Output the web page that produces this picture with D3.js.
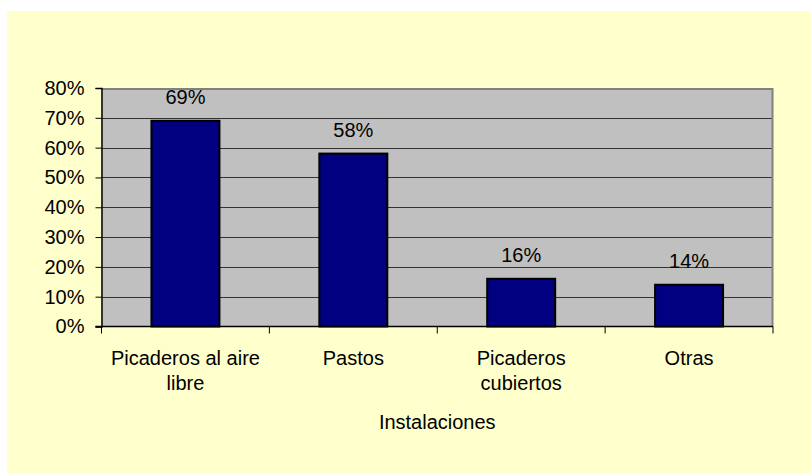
<html>
<head>
<title>Instalaciones</title>
<style>
  body { margin: 0; background: #ffffff; }
  text { font-family: Arial, "Liberation Sans", sans-serif; }
</style>
</head>
<body>
<script src="https://d3js.org/d3.v7.min.js"></script>
<script>
var w = 811;
var h = 473;

// data
var categories = ["Picaderos al aire libre", "Pastos", "Picaderos cubiertos", "Otras"];
var catLines = [["Picaderos al aire", "libre"], ["Pastos"], ["Picaderos", "cubiertos"], ["Otras"]];
var values = [0.69, 0.58, 0.16, 0.14];
var yTicks = [0, 0.1, 0.2, 0.3, 0.4, 0.5, 0.6, 0.7, 0.8];
var xTitle = "Instalaciones";

// plot box (note: "top" is reserved on window, so use other names)
var pL = 101.5, pR = 773, pT = 88, pB = 326.5;

var svg = d3.select('body')
            .append('svg')
            .attr('width', w)
            .attr('height', h);

svg.append('rect')
   .attr('x', 7).attr('y', 11)
   .attr('width', w - 7).attr('height', h - 11)
   .attr('fill', '#ffffcc');

var x = d3.scaleBand()
          .domain(categories)
          .range([pL, pR])
          .paddingInner(0.595)
          .paddingOuter(0.2975);

var y = d3.scaleLinear()
          .domain([0, 0.8])
          .range([pB, pT]);

// plot area
svg.append('rect')
   .attr('x', pL).attr('y', pT)
   .attr('width', pR - pL).attr('height', pB - pT)
   .attr('fill', '#c0c0c0');

// grid lines
svg.selectAll('.grid')
   .data(yTicks.filter(d => d > 0 && d < 0.8))
   .enter()
   .append('line')
   .attr('x1', pL).attr('x2', pR)
   .attr('y1', d => Math.round(y(d)) + 0.5)
   .attr('y2', d => Math.round(y(d)) + 0.5)
   .attr('stroke', '#333333')
   .attr('stroke-width', 1);

// gray frame top and right
svg.append('path')
   .attr('d', 'M' + pL + ',' + (pT + 1) + 'H' + (pR - 0.5) + 'V' + pB)
   .attr('fill', 'none')
   .attr('stroke', '#808080')
   .attr('stroke-width', 2);

// bars
svg.selectAll('.bar')
   .data(values)
   .enter()
   .append('rect')
   .attr('x', (d, i) => x(categories[i]))
   .attr('y', d => y(d))
   .attr('width', x.bandwidth())
   .attr('height', d => pB - y(d))
   .attr('fill', '#000080')
   .attr('stroke', '#000000')
   .attr('stroke-width', 2);

// value labels
svg.selectAll('.lbl')
   .data(values)
   .enter()
   .append('text')
   .attr('x', (d, i) => x(categories[i]) + x.bandwidth() / 2)
   .attr('y', d => y(d) - 16.5)
   .attr('text-anchor', 'middle')
   .attr('font-size', '20px')
   .attr('fill', '#000')
   .text(d => Math.round(d * 100) + '%');

// y axis
var yAxis = d3.axisLeft(y)
              .tickValues(yTicks)
              .tickFormat(d3.format('.0%'))
              .tickSize(6)
              .tickPadding(11);
var gy = svg.append('g')
            .attr('transform', 'translate(' + pL + ',0)')
            .call(yAxis);
gy.select('.domain').attr('stroke', '#000').attr('stroke-width', 1.5);
gy.selectAll('text').attr('font-size', '20px').attr('fill', '#000')
  .attr('font-family', 'Arial, "Liberation Sans", sans-serif');

// x axis line + ticks at category boundaries
svg.append('line')
   .attr('x1', pL - 6).attr('x2', pR)
   .attr('y1', pB).attr('y2', pB)
   .attr('stroke', '#000').attr('stroke-width', 1.5);

var step = x.step();
svg.selectAll('.xtick')
   .data(d3.range(categories.length + 1))
   .enter()
   .append('line')
   .attr('x1', i => pL + i * step)
   .attr('x2', i => pL + i * step)
   .attr('y1', pB).attr('y2', pB + 7)
   .attr('stroke', '#000').attr('stroke-width', 1);

// category labels
var xl = svg.selectAll('.xlbl')
            .data(catLines)
            .enter()
            .append('text')
            .attr('text-anchor', 'middle')
            .attr('font-size', '20px')
            .attr('fill', '#000')
            .attr('x', (d, i) => x(categories[i]) + x.bandwidth() / 2)
            .attr('y', 365);
xl.selectAll('tspan')
  .data(d => d)
  .enter()
  .append('tspan')
  .attr('x', function() { return d3.select(this.parentNode).attr('x'); })
  .attr('dy', (d, i) => i === 0 ? 0 : 25)
  .text(d => d);

svg.append('text')
   .attr('x', (pL + pR) / 2)
   .attr('y', 429)
   .attr('text-anchor', 'middle')
   .attr('font-size', '20px')
   .attr('fill', '#000')
   .text(xTitle);
</script>
</body>
</html>
